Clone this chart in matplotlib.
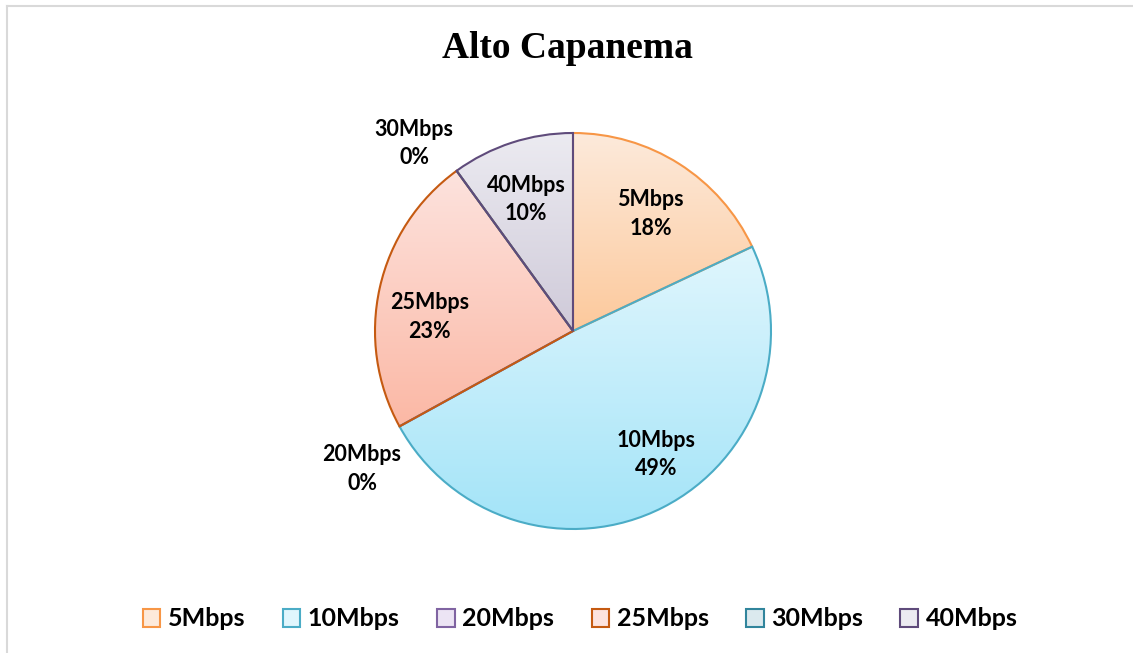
import numpy as np
import matplotlib.pyplot as plt
from matplotlib.colors import to_rgb
from matplotlib.patches import Rectangle
from matplotlib.lines import Line2D

labels = ['5Mbps', '10Mbps', '20Mbps', '25Mbps', '30Mbps', '40Mbps']
shares = [18, 49, 0, 23, 0, 10]
# gradient fills (top, bottom) and edge colours, like the Excel theme
tops = ['#fdeadb', '#e0f6fd', '#ece4f4', '#fde3de', '#dbe9ee', '#ecebf1']
bottoms = ['#fcc99c', '#a3e4f8', '#cdb9e6', '#fbb8a5', '#b4d0da', '#cfcad9']
edges = ['#f79646', '#4bacc6', '#8064a2', '#c55a11', '#31859c', '#5f4b7b']

W, H = 1133, 653
fig = plt.figure(figsize=(W / 100, H / 100), dpi=100)
ax = fig.add_axes([0, 0, 1, 1])

cx, cy, R = 573, H - 331, 198

wedges, _ = ax.pie(shares, center=(cx, cy), radius=R, startangle=90,
                   counterclock=False, frame=True,
                   wedgeprops=dict(linewidth=1.5))
ax.set_xlim(0, W)
ax.set_ylim(0, H)
ax.set_aspect('equal')
ax.axis('off')

for w, t, b, e in zip(wedges, tops, bottoms, edges):
    w.set_edgecolor(e)
    w.set_facecolor('none')
    w.set_zorder(3)
    if w.theta2 - w.theta1 <= 0:
        continue
    ext = w.get_path().get_extents()
    f = np.linspace(0, 1, 200)[:, None]
    grad = (np.array(to_rgb(t)) * (1 - f) + np.array(to_rgb(b)) * f)[:, None, :]
    im = ax.imshow(grad, extent=(ext.x0, ext.x1, ext.y0, ext.y1), origin='upper',
                   aspect='auto', zorder=2, interpolation='bilinear')
    im.set_clip_path(w)

ax.set_xlim(0, W)
ax.set_ylim(0, H)

# data labels (Excel nudges them a little off the mid angle)
nudge = {'10Mbps': 8, '25Mbps': 5, '40Mbps': 1, '5Mbps': 0}
start = 90.0
for lab, s in zip(labels, shares):
    span = s / 100 * 360
    if s == 0:
        dist = 1.26
        mid = np.deg2rad(start + 3.5)
    else:
        dist = 0.73
        mid = np.deg2rad(start - span / 2 + nudge[lab])
    ax.text(cx + dist * R * np.cos(mid), cy + dist * R * np.sin(mid) - 5,
            f'{lab}\n{s}%', ha='center', va='center', fontsize=15.5,
            fontweight='bold', family='Lato', linespacing=1.45, zorder=5)
    start -= span

ax.text(W / 2 + 1, H - 48, 'Alto Capanema', ha='center', va='center',
        fontsize=27, fontweight='bold', family='Liberation Serif')

handles = [Rectangle((0, 0), 1, 1, facecolor=t, edgecolor=e, linewidth=1.5)
           for t, e in zip(tops, edges)]
leg = fig.legend(handles, labels, loc='center', bbox_to_anchor=(0.512, 1 - 619 / H),
                 ncol=6, frameon=False, handlelength=0.7, handleheight=0.7,
                 handletextpad=0.3, columnspacing=1.5,
                 prop=dict(family='Lato', weight='bold', size=18))

# light frame lines at top and left
fig.add_artist(Line2D([7 / W, 1], [1 - 6 / H, 1 - 6 / H], transform=fig.transFigure,
                      color='#d9d9d9', linewidth=1.5))
fig.add_artist(Line2D([7 / W, 7 / W], [0, 1 - 6 / H], transform=fig.transFigure,
                      color='#d9d9d9', linewidth=1.5))

fig.savefig('out.png', dpi=100, facecolor='white')
